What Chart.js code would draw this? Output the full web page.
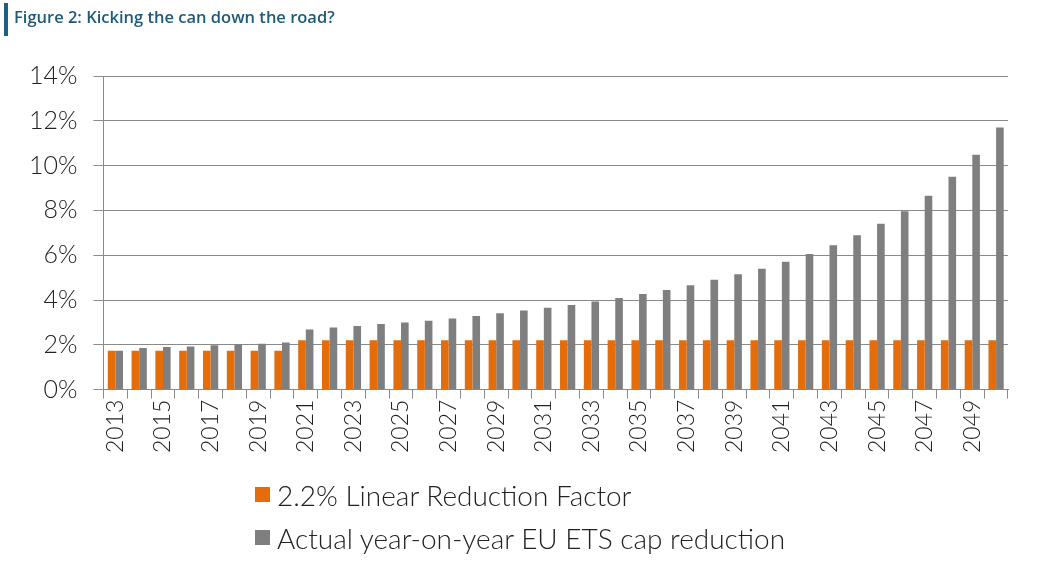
<!DOCTYPE html>
<html>
<head>
<meta charset="utf-8">
<script src="https://cdn.jsdelivr.net/npm/chart.js@4.4.1/dist/chart.umd.min.js"></script>
<style>
  html, body { margin: 0; padding: 0; background: #fff; }
  #wrap { position: relative; width: 1048px; height: 567px; overflow: hidden; }
  #chart { position: absolute; left: 0; top: 0; }
  .title { position: absolute; left: 4px; top: 3px; height: 33px; border-left: 4px solid #1b5f86; padding-left: 6px;
           font-family: 'Open Sans', sans-serif; font-weight: 600; font-size: 16.5px; color: #1f5a78; line-height: 28px; }
  .legend { position: absolute; left: 255px; top: 473px; font-family: Lato, sans-serif; font-weight: 300; font-size: 28px; color: #222; }
  .legend div { height: 43px; display: flex; align-items: center; }
  .legend span.box { display: inline-block; width: 15px; height: 15px; margin-right: 7px; }
</style>
</head>
<body>
<div id="wrap">
  <canvas id="chart" width="1048" height="567"></canvas>
  <div class="title">Figure 2: Kicking the can down the road?</div>
  <div class="legend" id="legend"></div>
</div>
<script>
const years = [2013, 2014, 2015, 2016, 2017, 2018, 2019, 2020, 2021, 2022, 2023, 2024, 2025, 2026, 2027, 2028, 2029, 2030, 2031,
               2032, 2033, 2034, 2035, 2036, 2037, 2038, 2039, 2040, 2041, 2042, 2043, 2044, 2045, 2046, 2047, 2048, 2049, 2050];
const linearFactor = [1.74, 1.74, 1.74, 1.74, 1.74, 1.74, 1.74, 1.74, 2.2, 2.2, 2.2, 2.2, 2.2, 2.2, 2.2, 2.2, 2.2, 2.2, 2.2,
                      2.2, 2.2, 2.2, 2.2, 2.2, 2.2, 2.2, 2.2, 2.2, 2.2, 2.2, 2.2, 2.2, 2.2, 2.2, 2.2, 2.2, 2.2, 2.2];
const actualCut = [1.74, 1.86, 1.9, 1.93, 1.98, 2.03, 2.05, 2.1, 2.69, 2.77, 2.84, 2.93, 3.0, 3.08, 3.18, 3.29, 3.41, 3.53, 3.65,
                   3.78, 3.93, 4.09, 4.27, 4.45, 4.66, 4.91, 5.15, 5.4, 5.71, 6.06, 6.44, 6.89, 7.4, 7.96, 8.66, 9.5, 10.48, 11.7];
const seriesNames = ['2.2% Linear Reduction Factor', 'Actual year-on-year EU ETS cap reduction'];
const seriesColors = ['#e46c0a', '#7f7f7f'];

const axisFont = { family: 'Lato, sans-serif', weight: 300, size: 25 };
const lineColor = '#8a8a8a';

const chart = new Chart(document.getElementById('chart').getContext('2d'), {
    type: 'bar',
    data: {
        labels: years,
        datasets: [
            { label: seriesNames[0], data: linearFactor, backgroundColor: seriesColors[0], categoryPercentage: 0.64, barPercentage: 1.0 },
            { label: seriesNames[1], data: actualCut, backgroundColor: seriesColors[1], categoryPercentage: 0.64, barPercentage: 1.0 },
        ],
    },
    options: {
        responsive: false,
        animation: false,
        layout: { padding: { left: 13, right: 40, top: 76, bottom: 113 } },
        plugins: { legend: { display: false }, tooltip: { enabled: false } },
        scales: {
            x: {
                offset: true,
                grid: { offset: true, drawOnChartArea: false, drawTicks: true, tickLength: 9, color: lineColor },
                border: { color: lineColor },
                ticks: {
                    autoSkip: false, maxRotation: 90, minRotation: 90, padding: 1,
                    color: '#222', font: { family: 'Lato, sans-serif', weight: 300, size: 23 },
                    callback: (v, i) => (i % 2 === 0 ? String(years[i]) : ''),
                },
            },
            y: {
                min: 0, max: 14,
                grid: { color: lineColor, tickLength: 10 },
                border: { color: lineColor },
                ticks: { stepSize: 2, padding: 16, color: '#222', font: axisFont, callback: v => v + '%' },
            },
        },
    },
});

const legend = document.getElementById('legend');
chart.data.datasets.forEach(ds => {
    const row = document.createElement('div');
    row.innerHTML = '<span class="box" style="background:' + ds.backgroundColor + '"></span>' + ds.label;
    legend.appendChild(row);
});
</script>
</body>
</html>
